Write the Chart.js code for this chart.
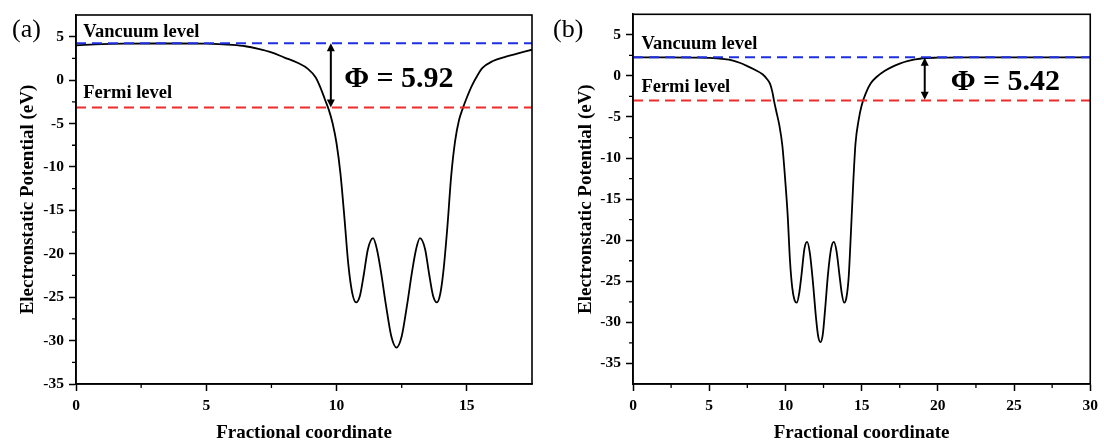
<!DOCTYPE html>
<html><head><meta charset="utf-8">
<script src="https://cdn.jsdelivr.net/npm/chart.js@4.4.1/dist/chart.umd.min.js"></script>
<style>
html,body{margin:0;padding:0;background:#fff;}
body{width:1104px;height:446px;position:relative;overflow:hidden;}
#ca{position:absolute;left:0;top:0;}
#cb{position:absolute;left:560px;top:0;}
.pl{position:absolute;font:26px "Liberation Serif";line-height:26px;color:#000;}
</style></head><body>
<canvas id="ca" width="560" height="446"></canvas>
<canvas id="cb" width="544" height="446"></canvas>
<div class="pl" style="left:12px;top:16px;">(a)</div>
<div class="pl" style="left:553px;top:16px;">(b)</div>
<script>
// ---------- data ----------
const panelLabels = ['(a)', '(b)'];
const xTitle = 'Fractional coordinate';
const yTitle = 'Electronstatic Potential (eV)';

// panel (a)
const aX = [0,1,2,3,4,5,6,6.5,7,7.5,8,8.5,8.9,9.2,9.4,9.55,9.7,9.85,10.0,10.15,10.3,10.45,10.6,10.75,10.9,11.05,11.2,11.4,11.55,11.7,11.9,12.1,12.3,12.5,12.7,12.9,13.05,13.2,13.4,13.55,13.7,13.85,13.98,14.1,14.25,14.4,14.55,14.7,14.85,15.0,15.2,15.4,15.6,16,16.5,17,17.5];
const aY = [4.0,4.15,4.2,4.22,4.22,4.2,4.05,3.9,3.6,3.2,2.6,2.0,1.3,0.3,-1.0,-2.2,-3.4,-5.0,-7.3,-10.8,-15.8,-21.2,-24.5,-25.6,-24.8,-22.3,-19.5,-18.2,-19.5,-22,-26,-29.5,-30.8,-29.5,-26,-22,-19.5,-18.2,-19.5,-22.3,-24.8,-25.6,-24.6,-22,-17,-11,-7,-4.6,-3.2,-2.0,-0.6,0.5,1.4,2.2,2.7,3.1,3.5];
const aVacuum = 4.24, aFermi = -3.15, aPhi = 'Φ = 5.92';
const aXRange = [0, 17.5], aYRange = [-35, 7.5];
const aXTicks = [0, 5, 10, 15];
const aYTicks = [-35, -30, -25, -20, -15, -10, -5, 0, 5];

// panel (b)
const bX = [0,2,4,5,6,6.5,7,7.5,8,8.5,8.8,9.0,9.15,9.25,9.4,9.6,9.8,10.0,10.15,10.3,10.45,10.6,10.75,10.9,11.05,11.25,11.42,11.6,11.8,12.0,12.15,12.3,12.45,12.6,12.8,13.0,13.18,13.35,13.55,13.7,13.85,14.0,14.15,14.3,14.45,14.6,14.8,15.0,15.3,15.6,16.0,16.5,17.0,17.5,18.0,18.5,19.0,20,22,25,30];
const bY = [2.25,2.25,2.23,2.2,2.05,1.9,1.6,1.2,0.75,0.2,-0.4,-1.0,-2.0,-3.0,-4.3,-6.0,-8.5,-13,-17,-22.5,-25.8,-27.3,-27.6,-26.5,-24.3,-21,-20.2,-21.5,-25,-29.3,-31.7,-32.4,-31.5,-28.5,-24,-21,-20.2,-21.3,-24.3,-26.5,-27.6,-27,-24.5,-19,-13,-8.2,-5.4,-3.6,-2.0,-0.9,-0.1,0.6,1.1,1.5,1.8,2.0,2.15,2.22,2.25,2.25,2.25];
const bVacuum = 2.27, bFermi = -3.0, bPhi = 'Φ = 5.42';
const bXRange = [0, 30], bYRange = [-37.5, 7.5];
const bXTicks = [0, 5, 10, 15, 20, 25, 30];
const bYTicks = [-35, -30, -25, -20, -15, -10, -5, 0, 5];

// ---------- helpers ----------
const FAM = '"Liberation Serif", "Times New Roman", serif';
const zip = (xs, ys) => xs.map((x, i) => ({x, y: ys[i]}));

const boxPlugin = {
  id: 'box',
  afterDraw(chart) {
    const {ctx, chartArea: a} = chart;
    ctx.save();
    ctx.strokeStyle = '#000'; ctx.lineWidth = 1.6;
    ctx.strokeRect(a.left, a.top, a.right - a.left, a.bottom - a.top);
    // minor ticks (halfway between major ticks)
    const xs = chart.scales.x, ys = chart.scales.y;
    ctx.lineWidth = 1.3;
    ctx.beginPath();
    for (let v = xs.min + 2.5; v < xs.max; v += 5) {
      const p = xs.getPixelForValue(v);
      ctx.moveTo(p, a.bottom); ctx.lineTo(p, a.bottom + 4);
    }
    for (let v = -32.5; v < ys.max; v += 5) {
      if (v <= ys.min) continue;
      const p = ys.getPixelForValue(v);
      ctx.moveTo(a.left, p); ctx.lineTo(a.left - 4, p);
    }
    ctx.stroke();
    ctx.restore();
  }
};

const notePlugin = {
  id: 'notes',
  afterDatasetsDraw(chart, args, opts) {
    const {ctx} = chart;
    const xs = chart.scales.x, ys = chart.scales.y;
    ctx.save();
    ctx.fillStyle = '#000';
    ctx.textBaseline = 'alphabetic';
    ctx.textAlign = 'left';
    (opts.texts || []).forEach(t => {
      ctx.font = 'bold ' + t.size + 'px ' + FAM;
      ctx.fillText(t.text, xs.getPixelForValue(t.x), ys.getPixelForValue(t.y));
    });
    (opts.arrows || []).forEach(ar => {
      const x = xs.getPixelForValue(ar.x);
      const y1 = ys.getPixelForValue(ar.y1), y2 = ys.getPixelForValue(ar.y2);
      const h = 8, w = 4;
      ctx.strokeStyle = '#000'; ctx.lineWidth = 2;
      ctx.beginPath(); ctx.moveTo(x, y1 + h - 1); ctx.lineTo(x, y2 - h + 1); ctx.stroke();
      ctx.beginPath();
      ctx.moveTo(x, y1); ctx.lineTo(x - w, y1 + h); ctx.lineTo(x + w, y1 + h); ctx.closePath();
      ctx.moveTo(x, y2); ctx.lineTo(x - w, y2 - h); ctx.lineTo(x + w, y2 - h); ctx.closePath();
      ctx.fill();
    });
    ctx.restore();
  }
};

function makeChart(id, xsArr, ysArr, vac, fermi, xr, yr, xt, yt, yAxisW, pad, yTitlePad, notes) {
  const tickFont = {family: FAM, size: 15.5, weight: 'bold'};
  return new Chart(document.getElementById(id), {
    type: 'line',
    data: {
      datasets: [
        {data: [{x: xr[0], y: vac}, {x: xr[1], y: vac}], borderColor: '#1f2fe0', borderWidth: 2, borderDash: [10, 6], pointRadius: 0},
        {data: [{x: xr[0], y: fermi}, {x: xr[1], y: fermi}], borderColor: '#ee2b2b', borderWidth: 2, borderDash: [10, 6], pointRadius: 0},
        {data: zip(xsArr, ysArr), borderColor: '#000', borderWidth: 1.8, pointRadius: 0, cubicInterpolationMode: 'monotone'}
      ]
    },
    options: {
      responsive: false, animation: false,
      layout: {padding: pad},
      plugins: {legend: {display: false}, tooltip: {enabled: false}, notes},
      scales: {
        x: {
          type: 'linear', min: xr[0], max: xr[1],
          afterBuildTicks(s) { s.ticks = xt.map(v => ({value: v})); },
          ticks: {autoSkip: false, maxRotation: 0, color: '#000', font: tickFont, padding: 6},
          grid: {drawOnChartArea: false, tickLength: 7, tickWidth: 1.5, tickColor: '#000'},
          border: {color: '#000', width: 1.6},
          title: {display: true, text: xTitle, color: '#000', font: {family: FAM, size: 19, weight: 'bold'}, padding: {top: 0, bottom: 1.5}},
          afterFit(s) { s.height = 62; }
        },
        y: {
          type: 'linear', min: yr[0], max: yr[1],
          afterBuildTicks(s) { s.ticks = yt.map(v => ({value: v})); },
          ticks: {autoSkip: false, color: '#000', font: tickFont, padding: 5},
          grid: {drawOnChartArea: false, tickLength: 7, tickWidth: 1.5, tickColor: '#000'},
          border: {color: '#000', width: 1.6},
          title: {display: true, text: yTitle, color: '#000', font: {family: FAM, size: 19, weight: 'bold'}, padding: {top: yTitlePad, bottom: 0}},
          afterFit(s) { s.width = yAxisW; }
        }
      }
    },
    plugins: [boxPlugin, notePlugin]
  });
}

makeChart('ca', aX, aY, aVacuum, aFermi, aXRange, aYRange, aXTicks, aYTicks, 76, {left: 0, right: 28, top: 15, bottom: 0}, 16.5, {
  texts: [
    {text: 'Vancuum level', x: 0.28, y: 5.0, size: 18.5},
    {text: 'Fermi level', x: 0.28, y: -2.1, size: 18.5},
    {text: aPhi, x: 10.29, y: -0.8, size: 30}
  ],
  arrows: [{x: 9.78, y1: aVacuum, y2: aFermi}]
});

makeChart('cb', bX, bY, bVacuum, bFermi, bXRange, bYRange, bXTicks, bYTicks, 73, {left: 0, right: 11, top: 13, bottom: 0}, 14.5, {
  texts: [
    {text: 'Vancuum level', x: 0.55, y: 3.25, size: 18.5},
    {text: 'Fermi level', x: 0.55, y: -2.0, size: 18.5},
    {text: bPhi, x: 20.84, y: -1.74, size: 30}
  ],
  arrows: [{x: 19.14, y1: 2.2, y2: -2.9}]
});
</script>
</body></html>
